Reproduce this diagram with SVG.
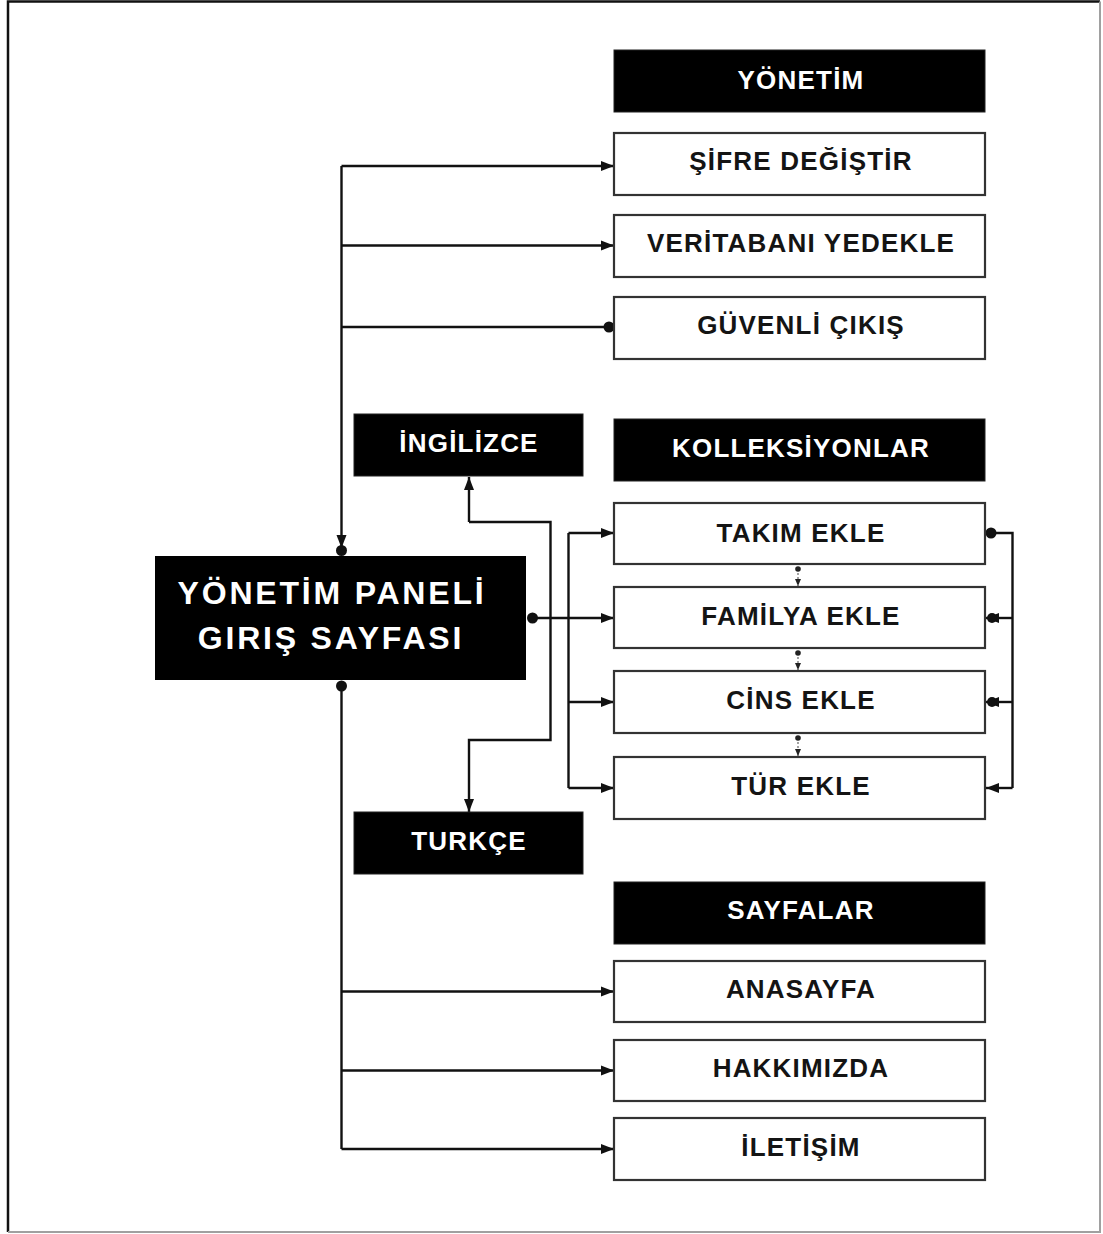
<svg xmlns="http://www.w3.org/2000/svg" width="1103" height="1234" viewBox="0 0 1103 1234">
  <defs>
    <marker id="arrow" markerUnits="userSpaceOnUse" markerWidth="13" markerHeight="11" refX="13" refY="5.5" orient="auto">
      <path d="M0,0.5 L13,5.5 L0,10.5 z" fill="#111"/>
    </marker>
    <marker id="arrow-small" markerUnits="userSpaceOnUse" markerWidth="7" markerHeight="7" refX="7" refY="3.5" orient="auto">
      <path d="M0,0.5 L7,3.5 L0,6.5 z" fill="#222"/>
    </marker>
    <marker id="dot" markerUnits="userSpaceOnUse" markerWidth="13" markerHeight="13" refX="6.5" refY="6.5" orient="auto">
      <circle cx="6.5" cy="6.5" r="5.5" fill="#111"/>
    </marker>
    <marker id="dot-small" markerUnits="userSpaceOnUse" markerWidth="7" markerHeight="7" refX="3.5" refY="3.5" orient="auto">
      <circle cx="3.5" cy="3.5" r="2.8" fill="#222"/>
    </marker>
  </defs>
  <style>
    .box { fill: #fff; stroke: #333; stroke-width: 2.2; }
    .head { fill: #000; stroke: #222; stroke-width: 1; }
    .lbl { font-family: "Liberation Sans", Arial, sans-serif; font-weight: bold; font-size: 26px; letter-spacing: 1.2px; text-anchor: middle; fill: #141414; }
    .lbl-w { fill: #fff; }
    .big { font-size: 32px; letter-spacing: 2.8px; }
    .wire { fill: none; stroke: #111; stroke-width: 2.4; }
    .dash { fill: none; stroke: #666; stroke-width: 1.2; stroke-dasharray: 2 2; }
  </style>

  <rect width="1103" height="1234" fill="#fff"/>
  <!-- page frame -->
  <path d="M8,1232 V1.5 H1100" fill="none" stroke="#111" stroke-width="2.5"/>
  <path d="M1100,1.5 V1232 H8" fill="none" stroke="#a0a0a0" stroke-width="2"/>

  <!-- connectors -->
  <g id="connectors">
    <!-- upper trunk from the main panel -->
    <path class="wire" d="M341.5,166 V548" marker-end="url(#arrow)"/>
    <circle cx="341.5" cy="550.5" r="5.5" fill="#111"/>
    <path class="wire" d="M341.5,166 H614" marker-end="url(#arrow)"/>
    <path class="wire" d="M341.5,245.5 H614" marker-end="url(#arrow)"/>
    <path class="wire" d="M341.5,327 H609" marker-end="url(#dot)"/>

    <!-- lower trunk -->
    <path class="wire" d="M341.5,686 V1149" marker-start="url(#dot)"/>
    <path class="wire" d="M341.5,991.5 H614" marker-end="url(#arrow)"/>
    <path class="wire" d="M341.5,1070.5 H614" marker-end="url(#arrow)"/>
    <path class="wire" d="M341.5,1149 H614" marker-end="url(#arrow)"/>

    <!-- main panel to collections -->
    <path class="wire" d="M532.5,618 H614" marker-start="url(#dot)" marker-end="url(#arrow)"/>
    <path class="wire" d="M568.5,533 V788"/>
    <path class="wire" d="M568.5,533 H614" marker-end="url(#arrow)"/>
    <path class="wire" d="M568.5,702 H614" marker-end="url(#arrow)"/>
    <path class="wire" d="M568.5,788 H614" marker-end="url(#arrow)"/>

    <!-- right-hand bus between collections -->
    <path class="wire" d="M991,533 H1012.5 V788"/>
    <circle cx="991" cy="533" r="5.5" fill="#111"/>
    <path class="wire" d="M1012.5,618 H986" marker-end="url(#arrow)"/>
    <circle cx="992" cy="618" r="5" fill="#111"/>
    <path class="wire" d="M1012.5,702 H986" marker-end="url(#arrow)"/>
    <circle cx="992" cy="702" r="5" fill="#111"/>
    <path class="wire" d="M1012.5,788 H986" marker-end="url(#arrow)"/>

    <!-- dotted steps between collection forms -->
    <path class="dash" d="M798,569 V586" marker-start="url(#dot-small)" marker-end="url(#arrow-small)"/>
    <path class="dash" d="M798,653 V670" marker-start="url(#dot-small)" marker-end="url(#arrow-small)"/>
    <path class="dash" d="M798,738 V756" marker-start="url(#dot-small)" marker-end="url(#arrow-small)"/>

    <!-- language switch -->
    <path class="wire" d="M469,522 V477" marker-end="url(#arrow)"/>
    <path class="wire" d="M469,522 H550.5 V740 H469 V812" marker-end="url(#arrow)"/>
  </g>

  <!-- main panel -->
  <g id="main-panel">
    <rect x="155" y="556" width="371" height="124" fill="#000"/>
    <text class="lbl lbl-w big" x="332" y="604">YÖNETİM PANELİ</text>
    <text class="lbl lbl-w big" x="331" y="649">GIRIŞ SAYFASI</text>
  </g>

  <g id="lang-en">
    <rect class="head" x="354" y="414" width="229" height="62"/>
    <text class="lbl lbl-w" x="469" y="452">İNGİLİZCE</text>
  </g>
  <g id="lang-tr">
    <rect class="head" x="354" y="812" width="229" height="62"/>
    <text class="lbl lbl-w" x="469" y="850">TURKÇE</text>
  </g>

  <!-- management section -->
  <g id="head-yonetim">
    <rect class="head" x="614" y="50" width="371" height="62"/>
    <text class="lbl lbl-w" x="801" y="89">YÖNETİM</text>
  </g>
  <g id="sifre">
    <rect class="box" x="614" y="133" width="371" height="62"/>
    <text class="lbl" x="801" y="170">ŞİFRE DEĞİŞTİR</text>
  </g>
  <g id="veritabani">
    <rect class="box" x="614" y="215" width="371" height="62"/>
    <text class="lbl" x="801" y="252">VERİTABANI YEDEKLE</text>
  </g>
  <g id="guvenli-cikis">
    <rect class="box" x="614" y="297" width="371" height="62"/>
    <text class="lbl" x="801" y="334">GÜVENLİ ÇIKIŞ</text>
  </g>

  <!-- collections section -->
  <g id="head-kolleksiyonlar">
    <rect class="head" x="614" y="419" width="371" height="62"/>
    <text class="lbl lbl-w" x="801" y="457">KOLLEKSİYONLAR</text>
  </g>
  <g id="takim">
    <rect class="box" x="614" y="503" width="371" height="61"/>
    <text class="lbl" x="801" y="542">TAKIM EKLE</text>
  </g>
  <g id="familya">
    <rect class="box" x="614" y="587" width="371" height="61"/>
    <text class="lbl" x="801" y="625">FAMİLYA EKLE</text>
  </g>
  <g id="cins">
    <rect class="box" x="614" y="671" width="371" height="62"/>
    <text class="lbl" x="801" y="709">CİNS EKLE</text>
  </g>
  <g id="tur">
    <rect class="box" x="614" y="757" width="371" height="62"/>
    <text class="lbl" x="801" y="795">TÜR EKLE</text>
  </g>

  <!-- pages section -->
  <g id="head-sayfalar">
    <rect class="head" x="614" y="882" width="371" height="62"/>
    <text class="lbl lbl-w" x="801" y="919">SAYFALAR</text>
  </g>
  <g id="anasayfa">
    <rect class="box" x="614" y="961" width="371" height="61"/>
    <text class="lbl" x="801" y="998">ANASAYFA</text>
  </g>
  <g id="hakkimizda">
    <rect class="box" x="614" y="1040" width="371" height="61"/>
    <text class="lbl" x="801" y="1077">HAKKIMIZDA</text>
  </g>
  <g id="iletisim">
    <rect class="box" x="614" y="1118" width="371" height="62"/>
    <text class="lbl" x="801" y="1156">İLETİŞİM</text>
  </g>
</svg>
